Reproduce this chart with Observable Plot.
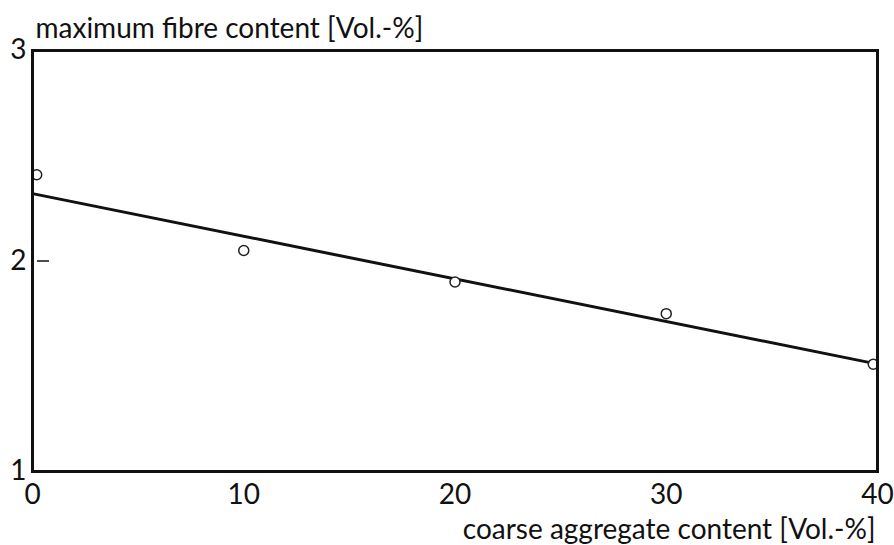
<!DOCTYPE html>
<html>
<head>
<meta charset="utf-8">
<script src="https://cdn.jsdelivr.net/npm/d3@7"></script>
<script src="https://cdn.jsdelivr.net/npm/@observablehq/plot@0.6"></script>
<style>
  html, body { margin: 0; padding: 0; background: #fff; }
  #chart svg { display: block; }
</style>
</head>
<body>
<div id="chart"></div>
<script>
// Measured points (coarse aggregate content vs maximum fibre content)
const aggregate = [0.2, 10, 20, 30, 39.8];
const fibre = [2.41, 2.05, 1.90, 1.75, 1.51];
// Regression line end points
const fitX = [0, 40];
const fitY = [2.32, 1.51];
// Tick labels
const xTicks = [0, 10, 20, 30, 40];
const yTicks = [1, 2, 3];
const yTitle = "maximum fibre content [Vol.-%]";
const xTitle = "coarse aggregate content [Vol.-%]";

const points = aggregate.map((x, i) => ({x, y: fibre[i]}));
const fit = fitX.map((x, i) => ({x, y: fitY[i]}));

const font = "Lato, sans-serif";

const chart = Plot.plot({
  width: 894,
  height: 545,
  marginLeft: 32,
  marginRight: 17,
  marginTop: 50,
  marginBottom: 74,
  style: {fontFamily: font, fontSize: "28px", color: "#111", background: "#fff"},
  x: {domain: [0, 40]},
  y: {domain: [1, 3]},
  marks: [
    Plot.axisX({ticks: xTicks, tickSize: 0, tickPadding: 13, label: null, fontSize: 28, tickFormat: d => String(d)}),
    Plot.axisY({ticks: yTicks, tickSize: 0, tickPadding: 6, label: null, fontSize: 28, tickFormat: d => String(d)}),
    Plot.axisY({ticks: [2], tickSize: -12, dx: 5, text: null, label: null, strokeWidth: 1.5}),
    Plot.line(fit, {x: "x", y: "y", stroke: "#111", strokeWidth: 3}),
    Plot.dot(points, {x: "x", y: "y", r: 5, stroke: "#222", strokeWidth: 1.5, fill: "#fff"}),
    Plot.frame({stroke: "#111", strokeWidth: 3}),
    Plot.text([yTitle], {frameAnchor: "top-left", textAnchor: "start", lineAnchor: "bottom", dx: 3, dy: -13, fontSize: 28, fill: "#111"}),
    Plot.text([xTitle], {frameAnchor: "bottom-right", textAnchor: "end", lineAnchor: "bottom", dx: -2, dy: 67, fontSize: 28, fill: "#111"})
  ]
});
document.getElementById("chart").appendChild(chart);
</script>
</body>
</html>
